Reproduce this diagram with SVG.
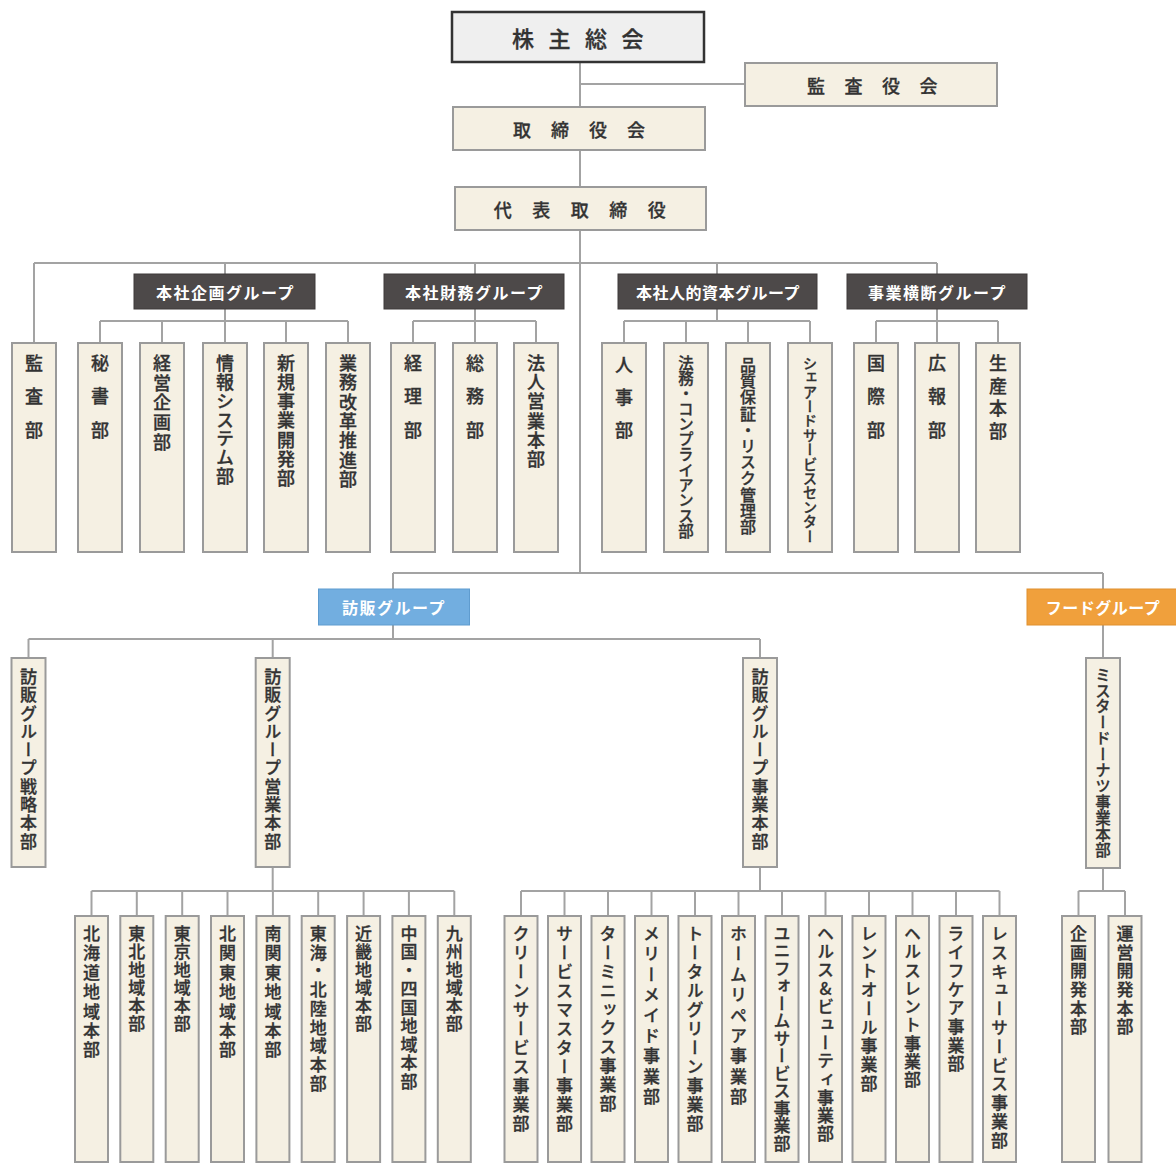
<svg xmlns="http://www.w3.org/2000/svg" width="1176" height="1164" viewBox="0 0 1176 1164">
<style>
.ln{stroke:#a3a3a3;stroke-width:2;fill:none}
.bx{fill:#f5f0e3;stroke:#9a9a9a;stroke-width:2}
.dk{fill:#4d4949;stroke:#3e3a3a;stroke-width:1}
.ht{font-family:"Noto Sans CJK JP","Noto Sans CJK SC",sans-serif;fill:#333;stroke:#333;stroke-width:0.3;font-weight:500;text-anchor:middle;dominant-baseline:central}
.gt{font-family:"Noto Sans CJK JP","Noto Sans CJK SC",sans-serif;fill:#fff;font-weight:700;font-size:16px;text-anchor:middle;dominant-baseline:central}
.vt{font-family:"Noto Sans CJK JP","Noto Sans CJK SC",sans-serif;fill:#333;stroke:#333;stroke-width:0.3;font-weight:500;writing-mode:vertical-rl;text-orientation:upright}
.t1{font-size:18px}
.t2{font-size:17px}
</style>
<rect width="1176" height="1164" fill="#fff"/>
<g id="connectors">
<path class="ln" d="M580 62V573M580 84H745"/>
<path class="ln" d="M34 263H937M34 263V343M225 263V274M475 263V274M717 263V274M937 263V274"/>
<path class="ln" d="M225 309V343M100 321H348M100 321V343M162 321V343M286 321V343M348 321V343"/>
<path class="ln" d="M475 309V343M413 321H536M413 321V343M536 321V343"/>
<path class="ln" d="M717 309V321M624 321H810M624 321V343M686 321V343M748 321V343M810 321V343"/>
<path class="ln" d="M937 309V343M876 321H998M876 321V343M998 321V343"/>
<path class="ln" d="M393 573H1103M393 573V589M1103 573V589"/>
<path class="ln" d="M393 625V639M28.5 639H760M28.5 639V658M272.7 639V658M760 639V658M1103 625V658"/>
<path class="ln" d="M272.7 867V891M91.5 891H454.3M91.5 891V916M136.8 891V916M182.2 891V916M227.5 891V916M272.9 891V916M318.2 891V916M363.6 891V916M408.9 891V916M454.3 891V916"/>
<path class="ln" d="M760 867V891M521 891H999.5M521 891V916M564.5 891V916M608 891V916M651.5 891V916M695 891V916M738.5 891V916M782 891V916M825.5 891V916M869 891V916M912.5 891V916M956 891V916M999.5 891V916"/>
<path class="ln" d="M1103 868V891M1078.5 891H1125M1078.5 891V916M1125 891V916"/>
</g>
<g id="n-shareholders"><rect x="452" y="12" width="252" height="50" fill="#efefef" stroke="#333" stroke-width="2.5"/><text class="ht" x="585" y="37" font-size="22" letter-spacing="14.5">株主総会</text></g>
<g id="n-auditboard"><rect class="bx" x="745" y="63" width="252" height="43"/><text class="ht t1" x="882" y="85" letter-spacing="19.5">監査役会</text></g>
<g id="n-board"><rect class="bx" x="453" y="107" width="252" height="43"/><text class="ht t1" x="589" y="129" letter-spacing="20">取締役会</text></g>
<g id="n-ceo"><rect class="bx" x="455" y="187" width="251" height="43"/><text class="ht t1" x="590" y="209" letter-spacing="20.5">代表取締役</text></g>

<g id="g-plan"><rect class="dk" x="134" y="274" width="181" height="35"/><text class="gt" x="225.5" y="291.5" letter-spacing="1.5">本社企画グループ</text></g>
<g id="g-fin"><rect class="dk" x="384" y="274" width="180" height="35"/><text class="gt" x="474.5" y="291.5" letter-spacing="1.5">本社財務グループ</text></g>
<g id="g-hr"><rect class="dk" x="618" y="274" width="199" height="35"/><text class="gt" x="718" y="291.5" letter-spacing="0.5">本社人的資本グループ</text></g>
<g id="g-cross"><rect class="dk" x="847" y="274" width="180" height="35"/><text class="gt" x="937.5" y="291.5" letter-spacing="1.5">事業横断グループ</text></g>

<g id="d-kansa"><rect class="bx" x="12" y="343" width="44" height="209"/><text class="vt t1" x="34" y="354" letter-spacing="15.4">監査部</text></g>
<g id="d-hisho"><rect class="bx" x="78" y="343" width="44" height="209"/><text class="vt t1" x="100" y="354" letter-spacing="15.4">秘書部</text></g>
<g id="d-keiei"><rect class="bx" x="140" y="343" width="44" height="209"/><text class="vt t1" x="162" y="354" letter-spacing="1.7">経営企画部</text></g>
<g id="d-joho"><rect class="bx" x="203" y="343" width="44" height="209"/><text class="vt t1" x="225" y="354" letter-spacing="0.9">情報システム部</text></g>
<g id="d-shinki"><rect class="bx" x="264" y="343" width="44" height="209"/><text class="vt t1" x="286" y="354" letter-spacing="1.2">新規事業開発部</text></g>
<g id="d-gyomu"><rect class="bx" x="326" y="343" width="44" height="209"/><text class="vt t1" x="348" y="354" letter-spacing="1.4">業務改革推進部</text></g>
<g id="d-keiri"><rect class="bx" x="391" y="343" width="44" height="209"/><text class="vt t1" x="413" y="354" letter-spacing="15.4">経理部</text></g>
<g id="d-somu"><rect class="bx" x="453" y="343" width="44" height="209"/><text class="vt t1" x="475" y="354" letter-spacing="15.4">総務部</text></g>
<g id="d-hojin"><rect class="bx" x="514" y="343" width="44" height="209"/><text class="vt t1" x="536" y="354" letter-spacing="1.3">法人営業本部</text></g>
<g id="d-jinji"><rect class="bx" x="602" y="343" width="44" height="209"/><text class="vt t1" x="624" y="356" letter-spacing="14.5">人事部</text></g>
<g id="d-homu"><rect class="bx" x="664" y="343" width="44" height="209"/><text class="vt" x="686" y="355" font-size="15.5" letter-spacing="-0.2">法務・コンプライアンス部</text></g>
<g id="d-hinshitsu"><rect class="bx" x="726" y="343" width="44" height="209"/><text class="vt" x="748" y="357" font-size="16" letter-spacing="0.2">品質保証・リスク管理部</text></g>
<g id="d-shared"><rect class="bx" x="788" y="343" width="44" height="209"/><text class="vt" x="810" y="356" font-size="14.5" letter-spacing="-0.1">シェアードサービスセンター</text></g>
<g id="d-kokusai"><rect class="bx" x="854" y="343" width="44" height="209"/><text class="vt t1" x="876" y="354" letter-spacing="15.4">国際部</text></g>
<g id="d-koho"><rect class="bx" x="915" y="343" width="44" height="209"/><text class="vt t1" x="937" y="354" letter-spacing="15.4">広報部</text></g>
<g id="d-seisan"><rect class="bx" x="976" y="343" width="44" height="209"/><text class="vt t1" x="998" y="354" letter-spacing="4.8">生産本部</text></g>

<g id="g-homon"><rect x="318.5" y="589" width="151" height="36" fill="#72aee0" stroke="#5f9ccf" stroke-width="1"/><text class="gt" x="394" y="607" letter-spacing="1.5">訪販グループ</text></g>
<g id="g-food"><rect x="1027" y="589" width="150" height="36" fill="#f0a03c" stroke="#e0902e" stroke-width="1"/><text class="gt" x="1103" y="607" letter-spacing="0.5">フードグループ</text></g>

<g id="d-senryaku"><rect class="bx" x="11.5" y="658" width="34" height="209"/><text class="vt t2" x="28.5" y="668" letter-spacing="1.3">訪販グループ戦略本部</text></g>
<g id="d-eigyo"><rect class="bx" x="255.7" y="658" width="34" height="209"/><text class="vt t2" x="272.7" y="668" letter-spacing="1.3">訪販グループ営業本部</text></g>
<g id="d-jigyo"><rect class="bx" x="743" y="658" width="34" height="209"/><text class="vt t2" x="760" y="668" letter-spacing="1.3">訪販グループ事業本部</text></g>
<g id="d-misdo"><rect class="bx" x="1086" y="658" width="34" height="210"/><text class="vt" x="1103" y="667" font-size="15.5" letter-spacing="0.4">ミスタードーナツ事業本部</text></g>

<g id="r-hokkaido"><rect class="bx" x="75" y="916" width="33" height="246"/><text class="vt t2" x="91.5" y="925" letter-spacing="2.4">北海道地域本部</text></g>
<g id="r-tohoku"><rect class="bx" x="120.3" y="916" width="33" height="246"/><text class="vt t2" x="136.8" y="925" letter-spacing="1">東北地域本部</text></g>
<g id="r-tokyo"><rect class="bx" x="165.7" y="916" width="33" height="246"/><text class="vt t2" x="182.2" y="925" letter-spacing="1">東京地域本部</text></g>
<g id="r-kitakanto"><rect class="bx" x="211" y="916" width="33" height="246"/><text class="vt t2" x="227.5" y="925" letter-spacing="2.4">北関東地域本部</text></g>
<g id="r-minamikanto"><rect class="bx" x="256.4" y="916" width="33" height="246"/><text class="vt t2" x="272.9" y="925" letter-spacing="2.4">南関東地域本部</text></g>
<g id="r-tokai"><rect class="bx" x="301.7" y="916" width="33" height="246"/><text class="vt t2" x="318.2" y="925" letter-spacing="1.75">東海・北陸地域本部</text></g>
<g id="r-kinki"><rect class="bx" x="347.1" y="916" width="33" height="246"/><text class="vt t2" x="363.6" y="925" letter-spacing="1">近畿地域本部</text></g>
<g id="r-chugoku"><rect class="bx" x="392.4" y="916" width="33" height="246"/><text class="vt t2" x="408.9" y="925" letter-spacing="1.5">中国・四国地域本部</text></g>
<g id="r-kyushu"><rect class="bx" x="437.8" y="916" width="33" height="246"/><text class="vt t2" x="454.3" y="925" letter-spacing="1">九州地域本部</text></g>

<g id="b-clean"><rect class="bx" x="504.5" y="916" width="33" height="246"/><text class="vt t2" x="521" y="925" letter-spacing="2">クリーンサービス事業部</text></g>
<g id="b-servicemaster"><rect class="bx" x="548" y="916" width="33" height="246"/><text class="vt t2" x="564.5" y="925" letter-spacing="2">サービスマスター事業部</text></g>
<g id="b-terminix"><rect class="bx" x="591.5" y="916" width="33" height="246"/><text class="vt t2" x="608" y="925" letter-spacing="1.9">ターミニックス事業部</text></g>
<g id="b-merrymaid"><rect class="bx" x="635" y="916" width="33" height="246"/><text class="vt t2" x="651.5" y="925" letter-spacing="3.4">メリーメイド事業部</text></g>
<g id="b-totalgreen"><rect class="bx" x="678.5" y="916" width="33" height="246"/><text class="vt t2" x="695" y="925" letter-spacing="2">トータルグリーン事業部</text></g>
<g id="b-homerepair"><rect class="bx" x="722" y="916" width="33" height="246"/><text class="vt t2" x="738.5" y="925" letter-spacing="3.4">ホームリペア事業部</text></g>
<g id="b-uniform"><rect class="bx" x="765.5" y="916" width="33" height="246"/><text class="vt t2" x="782" y="925" letter-spacing="0.5">ユニフォームサービス事業部</text></g>
<g id="b-health"><rect class="bx" x="809" y="916" width="33" height="246"/><text class="vt t2" x="825.5" y="925" letter-spacing="1.2">ヘルス&amp;ビューティ事業部</text></g>
<g id="b-rentall"><rect class="bx" x="852.5" y="916" width="33" height="246"/><text class="vt t2" x="869" y="925" letter-spacing="1.75">レントオール事業部</text></g>
<g id="b-healthrent"><rect class="bx" x="896" y="916" width="33" height="246"/><text class="vt t2" x="912.5" y="925" letter-spacing="1.3">ヘルスレント事業部</text></g>
<g id="b-lifecare"><rect class="bx" x="939.5" y="916" width="33" height="246"/><text class="vt t2" x="956" y="925" letter-spacing="1.6">ライフケア事業部</text></g>
<g id="b-rescue"><rect class="bx" x="983" y="916" width="33" height="246"/><text class="vt t2" x="999.5" y="925" letter-spacing="1.8">レスキューサービス事業部</text></g>

<g id="f-kikaku"><rect class="bx" x="1062" y="916" width="33" height="246"/><text class="vt t2" x="1078.5" y="925" letter-spacing="1.7">企画開発本部</text></g>
<g id="f-unei"><rect class="bx" x="1108.5" y="916" width="33" height="246"/><text class="vt t2" x="1125" y="925" letter-spacing="1.7">運営開発本部</text></g>
</svg>
